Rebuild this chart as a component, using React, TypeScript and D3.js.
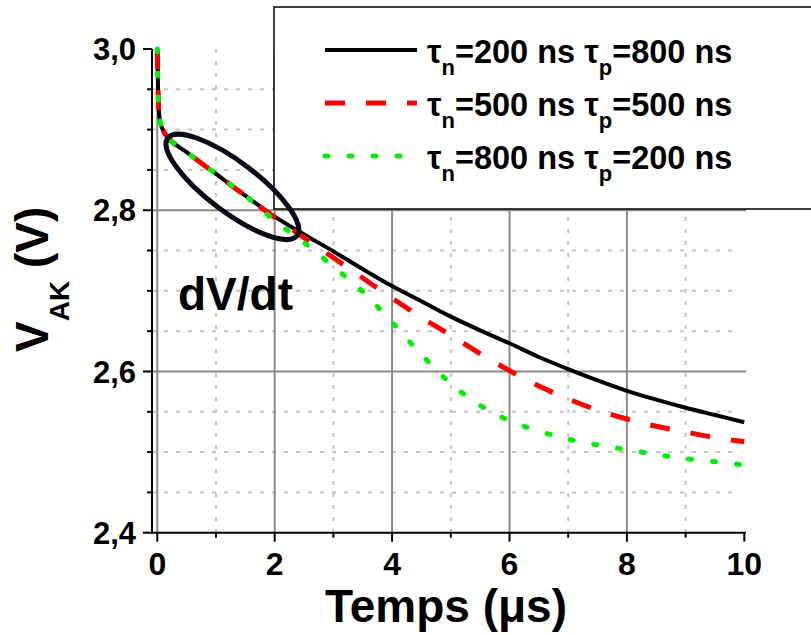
import React from "react";
import * as d3 from "d3";

const times = [0, 0.005, 0.015, 0.025, 0.05, 0.1, 0.2, 0.5, 1.0, 1.5, 2.0, 2.5, 3.0, 3.5, 4.0, 4.5, 5.0, 5.5, 6.0, 6.5, 7.0, 7.5, 8.0, 8.5, 9.0, 9.5, 10];
const seriesBlack = [3.0, 2.98, 2.945, 2.925, 2.91, 2.899, 2.889, 2.872, 2.845, 2.818, 2.792, 2.770, 2.749, 2.727, 2.706, 2.687, 2.668, 2.651, 2.635, 2.618, 2.603, 2.589, 2.576, 2.565, 2.555, 2.546, 2.537];
const seriesRed = [3.0, 2.98, 2.945, 2.925, 2.91, 2.899, 2.889, 2.872, 2.845, 2.818, 2.791, 2.766, 2.741, 2.716, 2.691, 2.667, 2.645, 2.622, 2.601, 2.582, 2.566, 2.552, 2.541, 2.532, 2.525, 2.518, 2.513];
const seriesGreen = [3.0, 2.98, 2.945, 2.925, 2.91, 2.899, 2.889, 2.872, 2.845, 2.818, 2.787, 2.760, 2.730, 2.699, 2.661, 2.621, 2.585, 2.558, 2.539, 2.526, 2.516, 2.509, 2.503, 2.497, 2.492, 2.488, 2.484];

const xMajorTicks = [0, 2, 4, 6, 8, 10];
const xMinorTicks = [1, 3, 5, 7, 9];
const yMajorTicks = [2.4, 2.6, 2.8, 3.0];
const yMinorTicks = [2.45, 2.5, 2.55, 2.65, 2.7, 2.75, 2.85, 2.9, 2.95];
const yTickLabels = ["2,4", "2,6", "2,8", "3,0"];
const xTickLabels = ["0", "2", "4", "6", "8", "10"];

const legendN = ["200", "500", "800"];
const legendP = ["800", "500", "200"];

const FONT = "'Liberation Sans', Arial, sans-serif";

export default function App() {
  const x = d3.scaleLinear().domain([-0.09, 10]).range([152, 744.3]);
  const y = d3.scaleLinear().domain([2.4, 3.0]).range([532.7, 49]);

  const mk = (vals: number[]) =>
    d3
      .line<number>()
      .x((_, i) => x(times[i]))
      .y((v) => y(v))
      .curve(d3.curveMonotoneX)(vals) as string;

  const series = [
    { vals: seriesBlack, color: "#000", dash: undefined as string | undefined, cap: "butt", w: 4 },
    { vals: seriesRed, color: "#ff0000", dash: "20 21", cap: "butt", w: 5 },
    { vals: seriesGreen, color: "#00ee00", dash: "3 21", cap: "round", w: 5 },
  ];

  const xL = x.range()[0];
  const xR = 746;
  const yB = y(2.4);
  const yT = y(3.0);

  const ellCx = x(1.28);
  const ellCy = y(2.829);

  return (
    <svg width={811} height={635} style={{ position: "absolute", left: 0, top: 0 }} fontFamily={FONT}>
      <rect width={811} height={635} fill="#fff" />
      {xMinorTicks.map((t) => (
        <line key={"xm" + t} x1={x(t)} x2={x(t)} y1={yT} y2={yB} stroke="#c4c4c4" strokeWidth={2} strokeDasharray="4 8" />
      ))}
      {yMinorTicks.map((t) => (
        <line key={"ym" + t} x1={xL} x2={738} y1={y(t)} y2={y(t)} stroke="#c4c4c4" strokeWidth={2} strokeDasharray="4 8" />
      ))}
      {xMajorTicks.filter((t) => t < 10).map((t) => (
        <line key={"xM" + t} x1={x(t)} x2={x(t)} y1={yT} y2={yB} stroke="#8a8a8a" strokeWidth={2} />
      ))}
      {yMajorTicks.filter((t) => t > 2.4 && t < 3.0).map((t) => (
        <line key={"yM" + t} x1={xL} x2={xR} y1={y(t)} y2={y(t)} stroke="#8a8a8a" strokeWidth={2} />
      ))}
      {series.map((s, i) => (
        <path key={i} d={mk(s.vals)} fill="none" stroke={s.color} strokeWidth={s.w} strokeDasharray={s.dash} strokeLinecap={s.cap as any} strokeLinejoin="round" />
      ))}
      <line x1={xL} x2={xL} y1={yT} y2={yB + 1} stroke="#000" strokeWidth={2} />
      <line x1={xL - 1} x2={xR} y1={yB} y2={yB} stroke="#000" strokeWidth={2} />
      {yMajorTicks.map((t) => (
        <line key={"yt" + t} x1={xL - 9} x2={xL} y1={y(t)} y2={y(t)} stroke="#000" strokeWidth={2} />
      ))}
      {yMinorTicks.map((t) => (
        <line key={"ytm" + t} x1={xL - 5} x2={xL} y1={y(t)} y2={y(t)} stroke="#000" strokeWidth={2} />
      ))}
      {xMajorTicks.map((t) => (
        <line key={"xt" + t} x1={x(t)} x2={x(t)} y1={yB} y2={yB + 9} stroke="#000" strokeWidth={2} />
      ))}
      {xMinorTicks.map((t) => (
        <line key={"xtm" + t} x1={x(t)} x2={x(t)} y1={yB} y2={yB + 5} stroke="#000" strokeWidth={2} />
      ))}
      {yMajorTicks.map((t, i) => (
        <text key={"yl" + t} x={136} y={y(t)} dy="0.36em" textAnchor="end" fontSize={31} fontWeight="bold">
          {yTickLabels[i]}
        </text>
      ))}
      {xMajorTicks.map((t, i) => (
        <text key={"xl" + t} x={x(t)} y={575} textAnchor="middle" fontSize={32} fontWeight="bold">
          {xTickLabels[i]}
        </text>
      ))}
      <text x={325} y={622} fontSize={46} fontWeight="bold">Temps (μs)</text>
      <text transform="translate(48,352) rotate(-90)" fontSize={46} fontWeight="bold">
        V
        <tspan fontSize={28} dy={21}>AK</tspan>
        <tspan dy={-21}> (V)</tspan>
      </text>
      <rect x={274} y={7} width={560} height={202} fill="#fff" stroke="#000" strokeWidth={1.5} />
      {series.map((s, i) => {
        const ly = 50 + i * 53;
        return (
          <g key={"lg" + i}>
            <line x1={325} x2={417} y1={ly} y2={ly} stroke={s.color} strokeWidth={s.w} strokeDasharray={s.dash} strokeLinecap={s.cap as any} />
            <text x={427} y={ly + 13} fontSize={32.5} fontWeight="bold">
              τ<tspan fontSize={22} dy={12}>n</tspan>
              <tspan dy={-12}>={legendN[i]} ns τ</tspan>
              <tspan fontSize={22} dy={12}>p</tspan>
              <tspan dy={-12}>={legendP[i]} ns</tspan>
            </text>
          </g>
        );
      })}
      <ellipse cx={ellCx} cy={ellCy} rx={81} ry={25} fill="none" stroke="#0b0b18" strokeWidth={5} transform={`rotate(37 ${ellCx} ${ellCy})`} />
      <text x={178} y={310} fontSize={46} fontWeight="bold">dV/dt</text>
    </svg>
  );
}
